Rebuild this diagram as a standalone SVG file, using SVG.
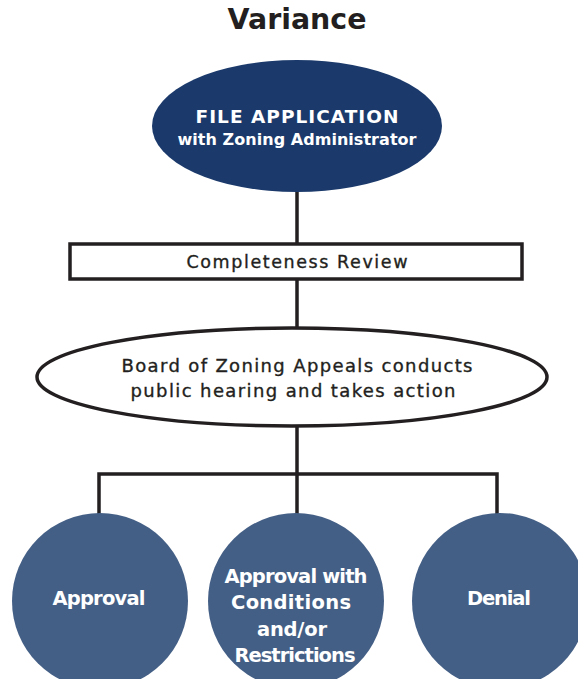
<svg xmlns="http://www.w3.org/2000/svg" width="578" height="679" viewBox="0 0 578 679">
<style>
.t{font-family:"DejaVu Sans","Open Sans",sans-serif;text-anchor:middle}
.title{font-size:28px;font-weight:700;fill:#231f20}
.w{fill:#ffffff;font-weight:700}
.k{fill:#231f20;font-weight:400;stroke:#231f20;stroke-width:0.35}
.ln{stroke:#231f20;stroke-width:3.5;fill:none}
.outline{fill:#ffffff;stroke:#231f20;stroke-width:3.5}
.res{fill:#445f85}
</style>
<rect width="578" height="679" fill="#ffffff"/>
<text class="t title" x="297" y="29" textLength="139" lengthAdjust="spacingAndGlyphs">Variance</text>
<g id="connectors">
<line class="ln" x1="297" y1="190" x2="297" y2="245"/>
<line class="ln" x1="297" y1="279" x2="297" y2="330"/>
<line class="ln" x1="297" y1="425" x2="297" y2="515"/>
<polyline class="ln" points="99,515 99,474 497,474 497,515"/>
</g>
<g id="file-application">
<ellipse cx="297" cy="126" rx="145" ry="66" fill="#1b3a6b"/>
<text class="t w" x="297" y="123" font-size="18.5" textLength="203" lengthAdjust="spacing">FILE APPLICATION</text>
<text class="t w" x="297" y="145" font-size="16" textLength="239" lengthAdjust="spacing">with Zoning Administrator</text>
</g>
<g id="completeness-review">
<rect class="outline" x="70" y="244" width="452" height="35"/>
<text class="t k" x="297" y="268" font-size="17.5" textLength="221" lengthAdjust="spacing">Completeness Review</text>
</g>
<g id="bza-hearing">
<ellipse class="outline" cx="292" cy="377" rx="255" ry="49"/>
<text class="t k" x="297" y="372" font-size="18" textLength="351" lengthAdjust="spacing">Board of Zoning Appeals conducts</text>
<text class="t k" x="293" y="397" font-size="18" textLength="325" lengthAdjust="spacing">public hearing and takes action</text>
</g>
<g id="approval">
<circle class="res" cx="100" cy="601" r="88"/>
<text class="t w" x="99" y="605" font-size="19.5" textLength="93" lengthAdjust="spacing">Approval</text>
</g>
<g id="approval-conditions">
<circle class="res" cx="296" cy="601" r="88"/>
<text class="t w" x="296" y="583" font-size="19.5" textLength="143" lengthAdjust="spacing">Approval with</text>
<text class="t w" x="291" y="609" font-size="19.5" textLength="120" lengthAdjust="spacing">Conditions</text>
<text class="t w" x="292" y="636" font-size="19.5" textLength="70" lengthAdjust="spacing">and/or</text>
<text class="t w" x="295" y="662" font-size="19.5" textLength="121" lengthAdjust="spacing">Restrictions</text>
</g>
<g id="denial">
<circle class="res" cx="500" cy="601" r="88"/>
<text class="t w" x="499" y="605" font-size="19.5" textLength="64" lengthAdjust="spacing">Denial</text>
</g>
</svg>
